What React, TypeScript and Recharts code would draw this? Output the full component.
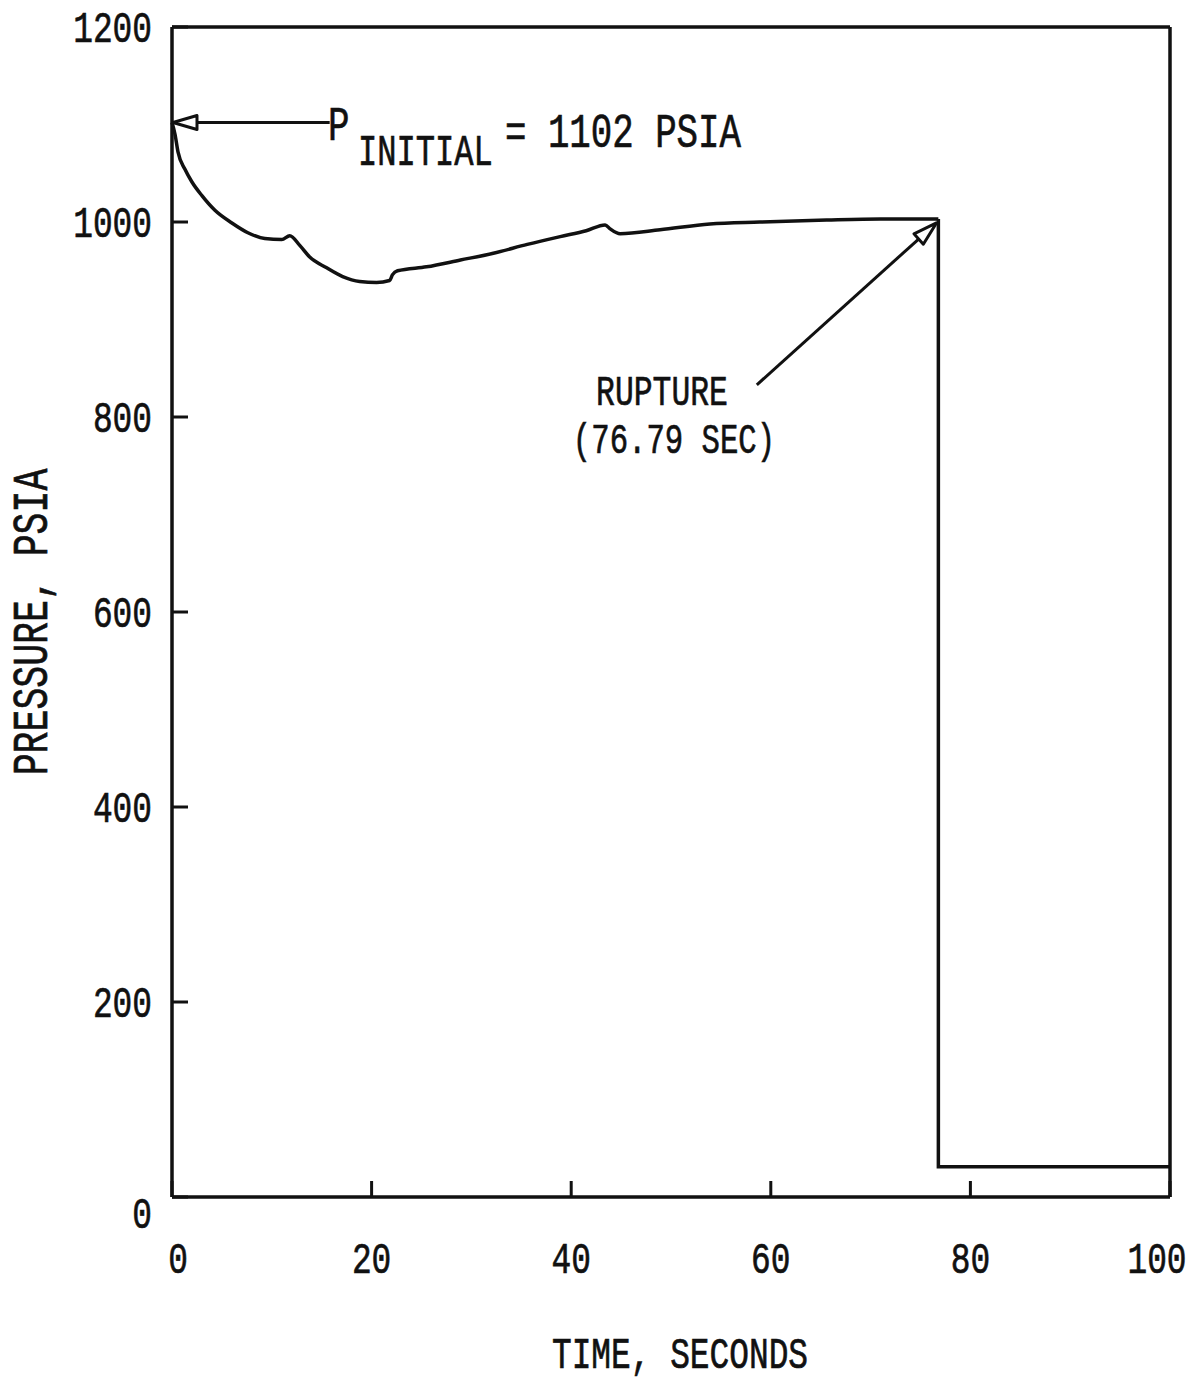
import { Label, Line, LineChart, ReferenceDot, ReferenceLine, XAxis, YAxis } from "recharts";

// Lettering-guide look: a mono face squeezed horizontally
const MONO = "'Liberation Mono', 'DejaVu Sans Mono', monospace";
const SX = 0.73;
const INK = "#111";

// Pressure history up to the rupture
const timeSec = [
  0, 0.3, 0.6, 1.3, 2.0, 3.0, 4.3, 6.0, 7.6, 9.3, 11.0, 11.8, 12.8, 13.8, 15.5,
  17.1, 18.8, 20.5, 21.8, 22.1, 22.6, 25.5, 28.9, 32.2, 35.6, 38.9, 41.5, 43.4,
  43.9, 44.9, 48.9, 53.9, 58.9, 65.6, 71.0, 76.79,
];
const pressurePsia = [
  1102, 1090, 1072, 1054, 1041, 1027, 1012, 999, 989, 983, 982, 986, 976, 964,
  953, 944, 939, 938, 940, 946, 950, 954, 961, 968, 977, 985, 991, 997, 993,
  988, 992, 998, 1000, 1002, 1003, 1003,
];

// Drop after rupture and the remaining level
const ruptureTime = [76.79, 76.79, 100];
const rupturePsia = [1003, 31, 31];

const xTicks = [0, 20, 40, 60, 80, 100];
const yTicks = [0, 200, 400, 600, 800, 1000, 1200];
const innerXTicks = [20, 40, 60, 80];
const innerYTicks = [200, 400, 600, 800, 1000];

const curve = timeSec.map((t, i) => ({ t, p: pressurePsia[i] }));
const afterRupture = ruptureTime.map((t, i) => ({ t, p: rupturePsia[i] }));

function Txt({
  x,
  y,
  size,
  anchor = "start",
  rotate = false,
  children,
}: {
  x: number;
  y: number;
  size: number;
  anchor?: "start" | "middle" | "end";
  rotate?: boolean;
  children: any;
}) {
  return (
    <text
      transform={`translate(${x} ${y})${rotate ? " rotate(-90)" : ""} scale(${SX} 1)`}
      textAnchor={anchor}
      fontFamily={MONO}
      fontSize={size}
      fill={INK}
      stroke={INK}
      strokeWidth={0.7}
    >
      {children}
    </text>
  );
}

// line with an open arrowhead at (x2, y2)
function ArrowLine(props: any) {
  const { x1, y1, x2, y2 } = props;
  const ang = Math.atan2(y2 - y1, x2 - x1);
  const L = 24;
  const W = 7;
  const bx = x2 - L * Math.cos(ang);
  const by = y2 - L * Math.sin(ang);
  const px = -Math.sin(ang);
  const py = Math.cos(ang);
  const pts = `${x2},${y2} ${bx + W * px},${by + W * py} ${bx - W * px},${by - W * py}`;
  return (
    <g>
      <line x1={x1} y1={y1} x2={bx} y2={by} stroke={INK} strokeWidth={3} />
      <polygon points={pts} fill="#fff" stroke={INK} strokeWidth={3} strokeLinejoin="round" />
    </g>
  );
}

function YTick(props: any) {
  const { x, y, payload } = props;
  const shift = payload.value === 0 ? 16 : 0;
  return (
    <Txt x={x} y={y + shift + 15} size={45} anchor="end">
      {payload.value}
    </Txt>
  );
}

function XTick(props: any) {
  const { x, y, payload } = props;
  const shift = payload.value === 0 ? 6 : payload.value === 100 ? -13 : 0;
  return (
    <Txt x={x + shift} y={y + 30} size={45} anchor="middle">
      {payload.value}
    </Txt>
  );
}

export default function App() {
  return (
    <div style={{ position: "absolute", left: 0, top: 0, background: "#fff" }}>
      <LineChart
        width={1194}
        height={1381}
        margin={{ top: 25, right: 20, left: 72, bottom: 64 }}
      >
        <XAxis
          dataKey="t"
          type="number"
          domain={[0, 100]}
          ticks={xTicks}
          height={120}
          axisLine={{ stroke: INK, strokeWidth: 3.5 }}
          tickLine={{ stroke: INK, strokeWidth: 3 }}
          tickSize={-16}
          tickMargin={62}
          tick={<XTick />}
        >
          <Label
            content={(p: any) => {
              const vb = p.viewBox;
              return (
                <Txt x={vb.x + vb.width / 2 + 9} y={vb.y + 171} size={45} anchor="middle">
                  TIME, SECONDS
                </Txt>
              );
            }}
          />
        </XAxis>
        <XAxis
          xAxisId="top"
          orientation="top"
          dataKey="t"
          type="number"
          domain={[0, 100]}
          ticks={innerXTicks}
          height={2}
          axisLine={{ stroke: INK, strokeWidth: 3.5 }}
          tickLine={{ stroke: INK, strokeWidth: 3 }}
          tickSize={-16}
          tick={false}
        />
        <YAxis
          type="number"
          domain={[0, 1200]}
          ticks={yTicks}
          width={100}
          axisLine={{ stroke: INK, strokeWidth: 3.5 }}
          tickLine={{ stroke: INK, strokeWidth: 3 }}
          tickSize={-16}
          tickMargin={36}
          tick={<YTick />}
        >
          <Label
            content={(p: any) => {
              const vb = p.viewBox;
              return (
                <Txt x={vb.x - 25} y={vb.y + vb.height / 2 + 10} size={50} anchor="middle" rotate>
                  PRESSURE, PSIA
                </Txt>
              );
            }}
          />
        </YAxis>
        <YAxis
          yAxisId="right"
          orientation="right"
          type="number"
          domain={[0, 1200]}
          ticks={innerYTicks}
          width={4}
          axisLine={{ stroke: INK, strokeWidth: 3.5 }}
          tickLine={{ stroke: INK, strokeWidth: 3 }}
          tickSize={-16}
          tick={false}
        />

        <Line
          data={curve}
          dataKey="p"
          type="monotone"
          stroke={INK}
          strokeWidth={3.5}
          dot={false}
          activeDot={false}
          isAnimationActive={false}
        />
        <Line
          data={afterRupture}
          dataKey="p"
          type="linear"
          stroke={INK}
          strokeWidth={3.5}
          dot={false}
          activeDot={false}
          isAnimationActive={false}
        />

        {/* P initial callout */}
        <ReferenceLine
          segment={[
            { x: 15.8, y: 1102 },
            { x: 0.1, y: 1102 },
          ]}
          shape={<ArrowLine />}
        />
        <ReferenceDot
          x={15.63}
          y={1084}
          r={0}
          shape={(p: any) => (
            <g>
              <Txt x={p.cx} y={p.cy} size={49}>
                P
              </Txt>
              <Txt x={p.cx + 30} y={p.cy + 25} size={44}>
                INITIAL
              </Txt>
              <Txt x={p.cx + 177} y={p.cy + 7} size={49}>
                = 1102 PSIA
              </Txt>
            </g>
          )}
        />

        {/* rupture callout */}
        <ReferenceLine
          segment={[
            { x: 58.6, y: 833 },
            { x: 76.6, y: 999 },
          ]}
          shape={<ArrowLine />}
        />
        <ReferenceDot
          x={49.1}
          y={812.3}
          r={0}
          shape={(p: any) => (
            <Txt x={p.cx} y={p.cy} size={43} anchor="middle">
              RUPTURE
            </Txt>
          )}
        />
        <ReferenceDot
          x={50.3}
          y={763.1}
          r={0}
          shape={(p: any) => (
            <Txt x={p.cx} y={p.cy} size={42} anchor="middle">
              (76.79 SEC)
            </Txt>
          )}
        />
      </LineChart>
    </div>
  );
}
